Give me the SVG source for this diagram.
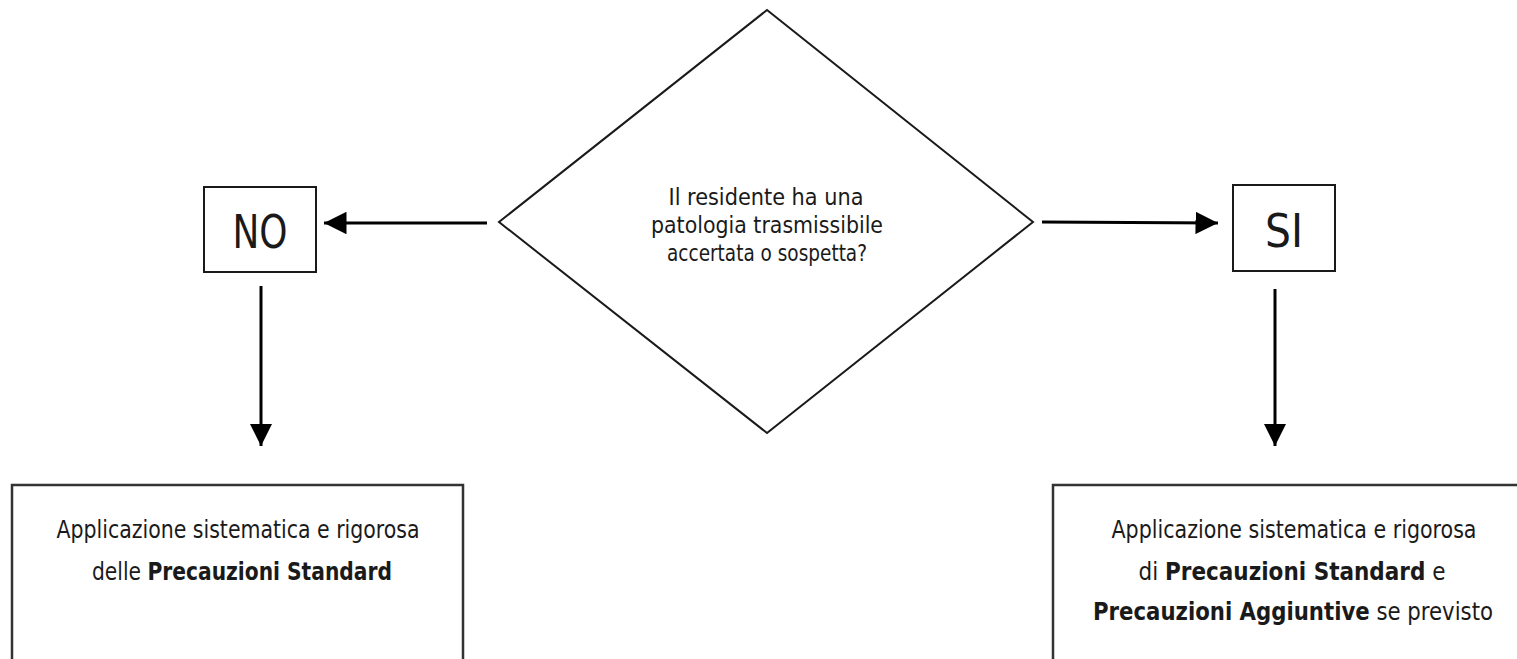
<svg xmlns="http://www.w3.org/2000/svg" width="1517" height="659" viewBox="0 0 1517 659">
<defs>
<style>
.shape{fill:#fff;stroke:#1a1a1a;stroke-width:2}
.box{fill:#fff;stroke:#333;stroke-width:2.5}
.conn{stroke:#000;stroke-width:3;fill:none}
text{font-family:"DejaVu Sans Condensed","DejaVu Sans",sans-serif;fill:#1a1a1a;text-anchor:middle}
.q{font-size:23px}
.big{font-size:47px}
.body{font-size:24px}
.b{font-weight:bold}
</style>
<marker id="arr" viewBox="0 0 10 10" refX="10" refY="5" markerWidth="7.5" markerHeight="7.5" markerUnits="strokeWidth" orient="auto">
<path d="M0,0 L10,5 L0,10 z" fill="#000"/>
</marker>
</defs>
<rect width="1517" height="659" fill="#fff"/>
<g id="connectors">
<line class="conn" x1="487" y1="223" x2="324" y2="223" marker-end="url(#arr)"/>
<line class="conn" x1="1042" y1="222" x2="1218" y2="223" marker-end="url(#arr)"/>
<line class="conn" x1="261" y1="286" x2="261" y2="446" marker-end="url(#arr)"/>
<line class="conn" x1="1275" y1="289" x2="1275" y2="446" marker-end="url(#arr)"/>
</g>
<g id="decision">
<polygon class="shape" points="767,10 1033,222 767,433 499,222"/>
<text class="q" x="766" y="205" textLength="195" lengthAdjust="spacingAndGlyphs">Il residente ha una</text>
<text class="q" x="767" y="233" textLength="232" lengthAdjust="spacingAndGlyphs">patologia trasmissibile</text>
<text class="q" x="767" y="261" textLength="200" lengthAdjust="spacingAndGlyphs">accertata o sospetta?</text>
</g>
<g id="no">
<rect class="shape" x="204" y="187" width="112" height="85"/>
<text class="big" x="260" y="248" textLength="55" lengthAdjust="spacingAndGlyphs">NO</text>
</g>
<g id="si">
<rect class="shape" x="1233" y="185" width="102" height="86"/>
<text class="big" x="1284" y="247" textLength="38" lengthAdjust="spacingAndGlyphs">SI</text>
</g>
<g id="std">
<rect class="box" x="12" y="485" width="451" height="200"/>
<text class="body" x="238" y="538" textLength="363" lengthAdjust="spacingAndGlyphs">Applicazione sistematica e rigorosa</text>
<text class="body" x="242" y="580" textLength="300" lengthAdjust="spacingAndGlyphs">delle <tspan class="b">Precauzioni Standard</tspan></text>
</g>
<g id="add">
<rect class="box" x="1053" y="485" width="480" height="200"/>
<text class="body" x="1294" y="538" textLength="365" lengthAdjust="spacingAndGlyphs">Applicazione sistematica e rigorosa</text>
<text class="body" x="1292" y="580" textLength="307" lengthAdjust="spacingAndGlyphs">di <tspan class="b">Precauzioni Standard</tspan> e</text>
<text class="body" x="1293" y="620" textLength="400" lengthAdjust="spacingAndGlyphs"><tspan class="b">Precauzioni Aggiuntive</tspan> se previsto</text>
</g>
</svg>
